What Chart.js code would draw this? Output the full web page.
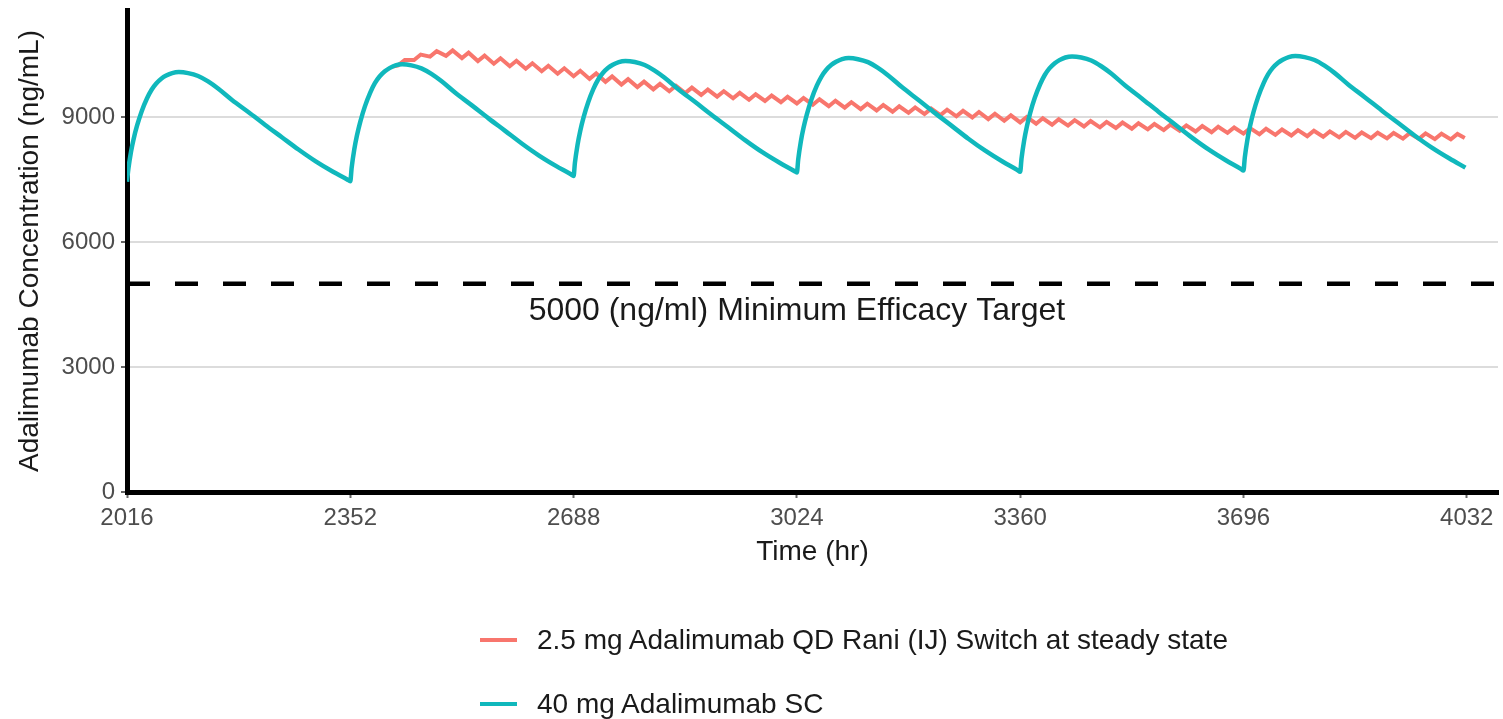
<!DOCTYPE html>
<html><head><meta charset="utf-8">
<script src="https://cdn.jsdelivr.net/npm/chart.js@4.4.0/dist/chart.umd.min.js"></script>
<style>
html,body{margin:0;padding:0;background:#fff;}
#wrap{position:relative;width:1503px;height:719px;overflow:hidden;}
#c{position:absolute;left:0;top:0;}
.leg{position:absolute;left:480px;height:40px;font-family:"Liberation Sans",Arial,sans-serif;font-size:28px;color:#1a1a1a;display:flex;align-items:center;white-space:nowrap;}
.sw{display:inline-block;width:37px;height:4px;margin-right:20px;}
</style></head>
<body>
<div id="wrap"><canvas id="c" width="1503" height="719"></canvas></div>
<script>
// ---- data ----
const seriesNames = ["2.5 mg Adalimumab QD Rani (IJ) Switch at steady state", "40 mg Adalimumab SC"];
const seriesColors = ["#F8766D", "#10B8BC"];
const targetLabel = "5000 (ng/ml) Minimum Efficacy Target";
const targetValue = 5000;
const xTickValues = [2016, 2352, 2688, 3024, 3360, 3696, 4032];
const yTickValues = [0, 3000, 6000, 9000];

// 40 mg SC (dosed every 336 h)
const scHours = [
 2016,2018,2022,2026,2031,2038,2046,2053,2060,2068,2075,2084,2094,2108,2123,2138,2153,2174,2199,2224,2249,2274,2300,2326,2348,
 2352,2354,2358,2362,2367,2374,2382,2389,2396,2404,2411,2420,2430,2444,2459,2474,2489,2510,2535,2560,2585,2610,2636,2662,2684,
 2688,2690,2694,2698,2703,2710,2718,2725,2732,2740,2747,2756,2766,2780,2795,2810,2825,2846,2871,2896,2921,2946,2972,2998,3020,
 3024,3026,3030,3034,3039,3046,3054,3061,3068,3076,3083,3092,3102,3116,3131,3146,3161,3182,3207,3232,3257,3282,3308,3334,3356,
 3360,3362,3366,3370,3375,3382,3390,3397,3404,3412,3419,3428,3438,3452,3467,3482,3497,3518,3543,3568,3593,3618,3644,3670,3692,
 3696,3698,3702,3706,3711,3718,3726,3733,3740,3748,3755,3764,3774,3788,3803,3818,3833,3854,3879,3904,3929,3954,3980,4006,4030
];
const scConc = [
 7450,7750,8170,8480,8790,9140,9450,9660,9810,9930,10000,10060,10085,10060,9990,9860,9690,9415,9120,8815,8520,8225,7940,7690,7500,
 7460,7780,8227,8559,8890,9261,9593,9818,9978,10104,10180,10245,10270,10245,10174,10040,9868,9587,9284,8973,8673,8370,8080,7826,7630,
 7590,7905,8343,8669,8995,9359,9685,9906,10063,10187,10262,10325,10350,10325,10254,10120,9948,9667,9364,9053,8753,8450,8160,7906,7710,
 7670,7984,8421,8745,9070,9433,9757,9977,10134,10258,10332,10395,10420,10394,10322,10185,10010,9724,9415,9099,8793,8484,8190,7930,7731,
 7690,8006,8446,8773,9100,9466,9792,10014,10172,10297,10371,10435,10460,10434,10361,10224,10049,9761,9452,9134,8827,8517,8221,7961,7761,
 7720,8034,8471,8795,9120,9483,9807,10027,10184,10308,10382,10445,10470,10444,10373,10238,10065,9781,9476,9163,8861,8556,8264,8008,7790
];

// 2.5 mg QD Rani (daily troughs / peaks), visible after it leaves the SC curve
const raniHours = [
 2416,2424,2434,2448,2458,2472,2482,2496,2506,2520,2530,2544,2554,2568,2578,2592,2602,
 2616,2626,2640,2650,2664,2674,2688,2698,2712,2722,2736,2746,2760,2770,2784,2794,
 2808,2818,2832,2842,2856,2866,2880,2890,2904,2914,2928,2938,2952,2962,2976,2986,
 3000,3010,3024,3034,3048,3058,3072,3082,3096,3106,3120,3130,3144,3154,3168,3178,
 3192,3202,3216,3226,3240,3250,3264,3274,3288,3298,3312,3322,3336,3346,3360,3370,
 3384,3394,3408,3418,3432,3442,3456,3466,3480,3490,3504,3514,3528,3538,3552,3562,
 3576,3586,3600,3610,3624,3634,3648,3658,3672,3682,3696,3706,3720,3730,3744,3754,
 3768,3778,3792,3802,3816,3826,3840,3850,3864,3874,3888,3898,3912,3922,3936,3946,
 3960,3970,3984,3994,4008,4018,4029
];
const raniConc = [
 10215,10245,10375,10375,10505,10455,10585,10475,10605,10420,10550,10350,10480,10285,10415,10225,10355,
 10165,10295,10105,10235,10045,10175,9985,10115,9920,10050,9850,9980,9785,9915,9725,9855,
 9670,9800,9625,9755,9580,9710,9535,9665,9495,9625,9455,9585,9420,9550,9390,9520,
 9360,9490,9330,9460,9300,9430,9265,9395,9230,9360,9195,9325,9163,9293,9133,9263,
 9105,9235,9077,9207,9050,9180,9023,9153,8995,9125,8955,9085,8915,9045,8877,9007,
 8845,8975,8821,8951,8799,8929,8778,8908,8758,8888,8741,8871,8724,8854,8708,8838,
 8691,8821,8674,8804,8658,8788,8641,8771,8624,8754,8608,8738,8592,8722,8576,8706,
 8560,8690,8545,8675,8530,8660,8517,8647,8505,8635,8497,8627,8491,8621,8486,8616,
 8482,8612,8475,8605,8467,8597,8500
];

const xRange = [2016, 4079];
const yRange = [0, 11575];
const labelAt = {x: 3024, y: 4350};

// ---- build ----
const toPts = (xs, ys) => xs.map((x, i) => ({x: x, y: ys[i]}));
const FONT = '"Liberation Sans", Arial, Helvetica, sans-serif';

const annotPlugin = {
  id: 'annot',
  afterDatasetsDraw(chart) {
    const {ctx, scales} = chart;
    ctx.save();
    ctx.font = '32px ' + FONT;
    ctx.fillStyle = '#1a1a1a';
    ctx.textAlign = 'center';
    ctx.textBaseline = 'middle';
    ctx.fillText(targetLabel, scales.x.getPixelForValue(labelAt.x), scales.y.getPixelForValue(labelAt.y));
    ctx.restore();
  }
};

new Chart(document.getElementById('c'), {
  type: 'line',
  data: {
    datasets: [
      {
        label: seriesNames[0],
        data: toPts(raniHours, raniConc),
        borderColor: seriesColors[0],
        borderWidth: 4,
        pointRadius: 0,
        tension: 0,
        fill: false,
        order: 1
      },
      {
        label: seriesNames[1],
        data: toPts(scHours, scConc),
        borderColor: seriesColors[1],
        borderWidth: 4.5,
        pointRadius: 0,
        cubicInterpolationMode: 'monotone',
        borderJoinStyle: 'round',
        fill: false,
        order: 0
      },
      {
        label: 'target',
        data: toPts(xRange, [targetValue, targetValue]),
        borderColor: '#000',
        borderWidth: 4.5,
        borderDash: [23, 25],
        borderCapStyle: 'butt',
        pointRadius: 0,
        fill: false,
        order: 2
      }
    ]
  },
  options: {
    responsive: false,
    animation: false,
    layout: {autoPadding: false, padding: {top: 10, right: 5, bottom: 147, left: 0}},
    plugins: {legend: {display: false}, tooltip: {enabled: false}},
    scales: {
      x: {
        type: 'linear',
        min: xRange[0], max: xRange[1],
        afterBuildTicks: s => { s.ticks = xTickValues.map(v => ({value: v})); },
        afterFit: s => { s.height = 80; s.paddingLeft = 0; s.paddingRight = 0; },
        ticks: {
          autoSkip: false, maxRotation: 0, minRotation: 0,
          color: '#4d4d4d', padding: 6,
          font: {family: FONT, size: 24},
          callback: v => String(v)
        },
        grid: {drawOnChartArea: false, drawTicks: true, tickLength: 6, tickColor: '#666', tickWidth: 2},
        border: {display: true, color: '#000', width: 5},
        title: {display: true, text: 'Time (hr)', color: '#1a1a1a', font: {family: FONT, size: 28}, padding: {top: 0, bottom: 3}}
      },
      y: {
        type: 'linear',
        min: yRange[0], max: yRange[1],
        afterBuildTicks: s => { s.ticks = yTickValues.map(v => ({value: v})); },
        afterFit: s => { s.width = 127; s.paddingTop = 0; s.paddingBottom = 0; },
        ticks: {
          color: '#4d4d4d', padding: 6,
          font: {family: FONT, size: 24},
          callback: v => String(v)
        },
        grid: {
          color: c => (c.tick && c.tick.value === 0) ? 'rgba(0,0,0,0)' : '#dcdcdc',
          lineWidth: 2, tickLength: 6, tickColor: '#666', tickWidth: 2
        },
        border: {display: true, color: '#000', width: 5},
        title: {display: true, text: 'Adalimumab Concentration (ng/mL)', color: '#1a1a1a', font: {family: FONT, size: 28}, padding: {top: 13, bottom: 0}}
      }
    }
  },
  plugins: [annotPlugin]
});

// legend (vertical, below the chart, as in the reference)
const wrap = document.getElementById('wrap');
const legTops = [620, 684];
seriesNames.forEach((name, i) => {
  const row = document.createElement('div');
  row.className = 'leg';
  row.style.top = legTops[i] + 'px';
  const sw = document.createElement('span');
  sw.className = 'sw';
  sw.style.background = seriesColors[i];
  const tx = document.createElement('span');
  tx.textContent = name;
  row.appendChild(sw); row.appendChild(tx);
  wrap.appendChild(row);
});
</script>
</body></html>
